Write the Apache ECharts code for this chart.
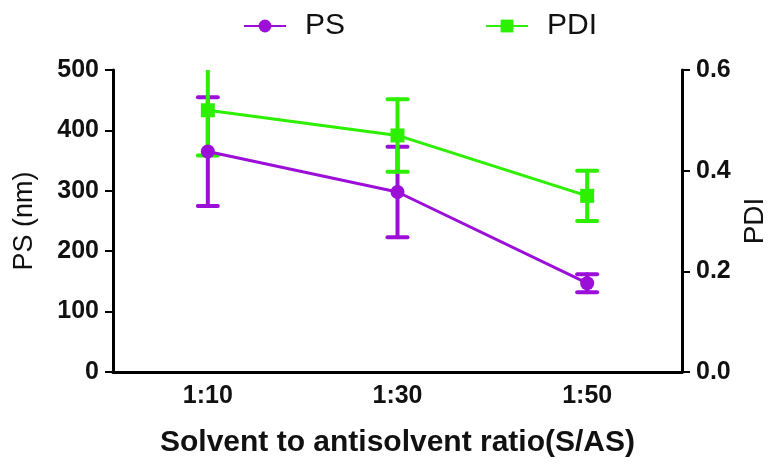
<!DOCTYPE html>
<html>
<head>
<meta charset="utf-8">
<script src="https://cdn.jsdelivr.net/npm/echarts@6/dist/echarts.min.js"></script>
<style>
html, body { margin: 0; padding: 0; background: #fff; }
#chart { width: 778px; height: 468px; }
</style>
</head>
<body>
<div id="chart"></div>
<script>
var categories = ["1:10", "1:30", "1:50"];
var psMean = [365, 298, 147];
var psErr = [90, 75, 15];
var pdiMean = [0.52, 0.47, 0.35];
var pdiErr = [0.09, 0.072, 0.05];

var purple = "#9b0fd8";
var green = "#2cf000";

var errItems = function (mean, err) {
    var out = [];
    for (var i = 0; i < mean.length; i++) {
        out.push([i, mean[i] - err[i], mean[i] + err[i]]);
    }
    return out;
}

var errRender = function (color) {
    return function (params, api) {
        var lo = api.coord([api.value(0), api.value(1)]);
        var hi = api.coord([api.value(0), api.value(2)]);
        var w = 10;
        var st = { stroke: color, lineWidth: 4, lineCap: 'round' };
        return {
            type: 'group',
            children: [
                { type: 'line', shape: { x1: lo[0], y1: lo[1], x2: hi[0], y2: hi[1] }, style: st },
                { type: 'line', shape: { x1: lo[0] - w, y1: lo[1], x2: lo[0] + w, y2: lo[1] }, style: st },
                { type: 'line', shape: { x1: hi[0] - w, y1: hi[1], x2: hi[0] + w, y2: hi[1] }, style: st }
            ]
        };
    };
}

var chart = echarts.init(document.getElementById('chart'));

var option = {
    animation: false,
    textStyle: { fontFamily: 'Liberation Sans, Arial, sans-serif' },
    legend: {
        top: 6,
        left: 238,
        itemGap: 140,
        itemWidth: 42,
        itemHeight: 16,
        textStyle: { fontSize: 30, color: '#111', padding: [0, 0, 0, 14] },
        data: ['PS', 'PDI']
    },
    grid: { left: 113, right: 96, top: 70, bottom: 96 },
    xAxis: {
        type: 'category',
        data: categories,
        boundaryGap: true,
        name: 'Solvent to antisolvent ratio(S/AS)',
        nameLocation: 'middle',
        nameGap: 56,
        nameTextStyle: { fontSize: 30, fontWeight: 'bold', color: '#111' },
        axisLine: { lineStyle: { color: '#000', width: 3 } },
        axisTick: { alignWithLabel: true, length: 7, lineStyle: { width: 2, color: '#000' } },
        axisLabel: { fontSize: 25, fontWeight: 'bold', color: '#111', margin: 12 },
        splitLine: { show: false }
    },
    yAxis: [
        {
            type: 'value',
            min: 0, max: 500, interval: 100,
            name: 'PS (nm)',
            nameLocation: 'middle',
            nameGap: 75,
            nameTextStyle: { fontSize: 27, color: '#111' },
            axisLine: { show: true, lineStyle: { color: '#000', width: 3 } },
            axisTick: { show: true, length: 8, lineStyle: { width: 2, color: '#000' } },
            axisLabel: { fontSize: 25, fontWeight: 'bold', color: '#111', margin: 14 },
            splitLine: { show: false }
        },
        {
            type: 'value',
            min: 0, max: 0.6, interval: 0.2,
            name: 'PDI',
            nameLocation: 'middle',
            nameGap: 44,
            nameRotate: 90,
            nameTextStyle: { fontSize: 28, color: '#111' },
            axisLine: { show: true, lineStyle: { color: '#000', width: 3 } },
            axisTick: { show: true, length: 8, lineStyle: { width: 2, color: '#000' } },
            axisLabel: {
                fontSize: 25, fontWeight: 'bold', color: '#111', margin: 14,
                formatter: function (v) { return v.toFixed(1); }
            },
            splitLine: { show: false }
        }
    ],
    series: [
        {
            name: 'PS err',
            type: 'custom',
            yAxisIndex: 0,
            clip: true,
            renderItem: errRender(purple),
            data: errItems(psMean, psErr),
            z: 2
        },
        {
            name: 'PDI err',
            type: 'custom',
            yAxisIndex: 1,
            clip: true,
            renderItem: errRender(green),
            data: errItems(pdiMean, pdiErr),
            z: 3
        },
        {
            name: 'PS',
            type: 'line',
            yAxisIndex: 0,
            data: psMean,
            symbol: 'circle',
            symbolSize: 14,
            itemStyle: { color: purple },
            lineStyle: { color: purple, width: 3 },
            z: 4
        },
        {
            name: 'PDI',
            type: 'line',
            yAxisIndex: 1,
            data: pdiMean,
            symbol: 'rect',
            symbolSize: 14,
            itemStyle: { color: green },
            lineStyle: { color: green, width: 3 },
            z: 5
        }
    ]
};

chart.setOption(option);
</script>
</body>
</html>
